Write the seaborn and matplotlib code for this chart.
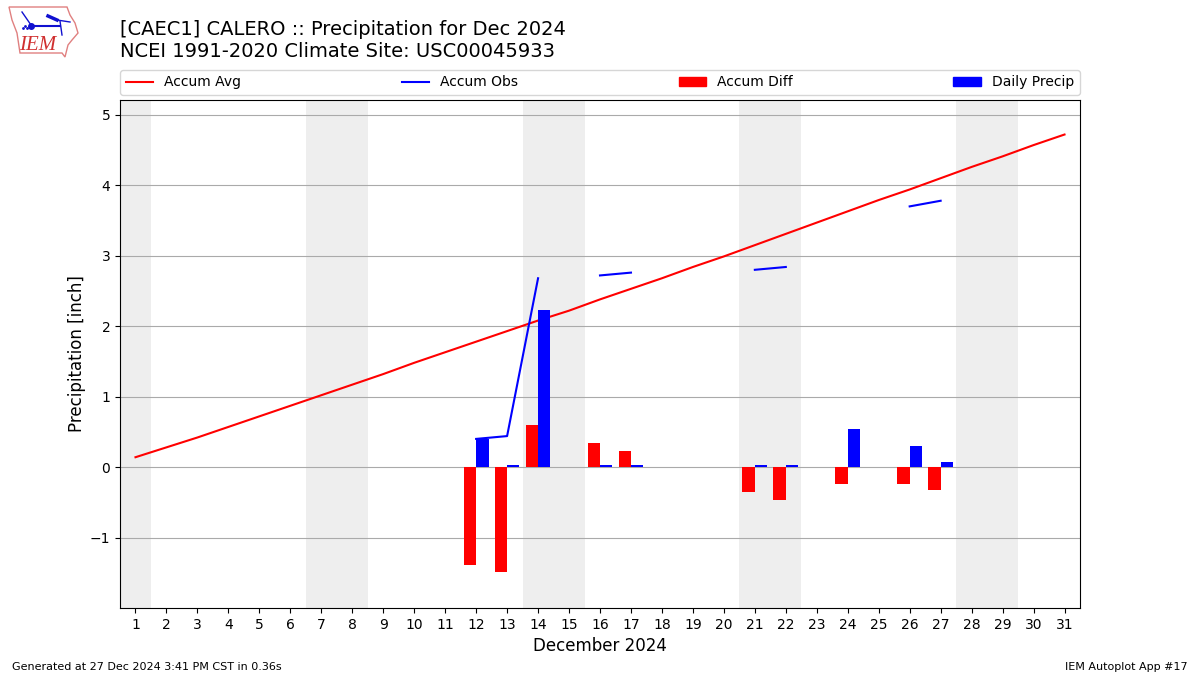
import numpy as np
import pandas as pd
import seaborn as sns
import matplotlib.pyplot as plt
from matplotlib.lines import Line2D
from matplotlib.patches import Patch, Polygon

days = list(range(1, 32))
accum_avg = [0.14, 0.28, 0.42, 0.57, 0.72, 0.87, 1.02, 1.17, 1.32, 1.48, 1.63,
             1.78, 1.93, 2.08, 2.22, 2.38, 2.53, 2.68, 2.84, 2.99, 3.15, 3.31,
             3.47, 3.63, 3.79, 3.94, 4.10, 4.26, 4.41, 4.57, 4.72]
obs_days = [12, 13, 14, 16, 17, 21, 22, 26, 27]
obs_segment = [0, 0, 0, 1, 1, 2, 2, 3, 3]
accum_obs = [0.40, 0.44, 2.68, 2.72, 2.76, 2.80, 2.84, 3.70, 3.78]
bar_days = [12, 13, 14, 16, 17, 21, 22, 24, 26, 27]
accum_diff = [-1.39, -1.49, 0.60, 0.34, 0.23, -0.35, -0.47, -0.24, -0.24, -0.33]
daily_precip = [0.40, 0.03, 2.23, 0.03, 0.03, 0.03, 0.03, 0.54, 0.30, 0.07]
weekend_spans = [(0.5, 1.5), (6.5, 8.5), (13.5, 15.5), (20.5, 22.5), (27.5, 29.5)]

# long table for the dodged bars, every day kept so the native scale stays daily
diff_map = dict(zip(bar_days, accum_diff))
precip_map = dict(zip(bar_days, daily_precip))
bars = pd.DataFrame({
    'day': days + days,
    'value': [diff_map.get(d, 0.0) for d in days] + [precip_map.get(d, 0.0) for d in days],
    'series': ['Accum Diff'] * len(days) + ['Daily Precip'] * len(days),
})
obs = pd.DataFrame({'day': obs_days, 'value': accum_obs, 'segment': obs_segment})

fig = plt.figure(figsize=(12, 6.75), dpi=100)
ax = fig.add_axes([0.1, 1 - 608 / 675, 0.8, 508 / 675])

for start, end in weekend_spans:
    ax.axvspan(start, end, color='#eeeeee', lw=0, zorder=0)
ax.grid(True, axis='y', color='#aaaaaa', lw=0.8, zorder=1)

sns.lineplot(x=days, y=accum_avg, color='red', ax=ax, zorder=2, legend=False)
sns.lineplot(data=obs, x='day', y='value', units='segment', estimator=None,
             color='blue', ax=ax, zorder=2, legend=False)
sns.barplot(data=bars, x='day', y='value', hue='series', native_scale=True,
            palette={'Accum Diff': 'red', 'Daily Precip': 'blue'}, saturation=1,
            width=0.8, gap=0, errorbar=None, legend=False, ax=ax, zorder=3, lw=0)

ax.set_xlim(0.5, 31.5)
ax.set_ylim(-2.0, 5.21)
ax.set_xticks(days)
ax.set_xticklabels([str(d) for d in days])
ax.set_yticks([-1, 0, 1, 2, 3, 4, 5])
ax.set_yticklabels(['\u22121', '0', '1', '2', '3', '4', '5'])
ax.set_xlabel('December 2024', fontsize=12)
ax.set_ylabel('Precipitation [inch]', fontsize=12, labelpad=2.5)

handles = [Line2D([], [], color='red'), Line2D([], [], color='blue'),
           Patch(color='red'), Patch(color='blue')]
labels = ['Accum Avg', 'Accum Obs', 'Accum Diff', 'Daily Precip']
ax.legend(handles, labels, loc='lower left', bbox_to_anchor=(0, 1.01, 1, 0.05),
          mode='expand', ncol=4, borderaxespad=0, fontsize=10)

fig.text(120 / 1200, 1 - 61 / 675, '[CAEC1] CALERO :: Precipitation for Dec 2024\n'
         'NCEI 1991-2020 Climate Site: USC00045933', fontsize=14, va='bottom', ha='left')
fig.text(12 / 1200, 1 - 670 / 675, 'Generated at 27 Dec 2024 3:41 PM CST in 0.36s', fontsize=8)
fig.text(1188 / 1200, 1 - 670 / 675, 'IEM Autoplot App #17', fontsize=8, ha='right')

# rough copy of the logo, coordinates are pixels of the picture
logo = fig.add_axes([0, 1 - 60 / 675, 85 / 1200, 60 / 675])
logo.set_xlim(0, 85)
logo.set_ylim(60, 0)
logo.axis('off')
logo.add_patch(Polygon([(9, 7), (67, 7), (70, 15), (75, 23), (78, 33), (72, 40),
                        (68, 45), (65, 57), (62, 53), (20, 53), (17, 33), (12, 20)],
                       closed=True, fill=False, ec='#e08080', lw=1))
logo.plot([31, 60], [26, 26], color='#1010d0', lw=1.5)
logo.plot([60, 62], [21, 35], color='#1010d0', lw=1)
logo.plot([48, 57], [16, 20], color='#1010d0', lw=2.5)
logo.plot([57, 70], [20, 22], color='#1010d0', lw=1)
logo.plot([22, 31], [12, 25], color='#1010d0', lw=1)
logo.plot([31], [26], 'o', color='#1010d0', ms=4)
logo.plot([23, 25, 27], [28, 26, 28], '.', color='#1010d0', ms=2)
logo.text(38, 45, 'IEM', family='Liberation Serif', style='italic', color='#d03030',
          fontsize=15, ha='center', va='center')

fig.savefig('out.png', dpi=100)
